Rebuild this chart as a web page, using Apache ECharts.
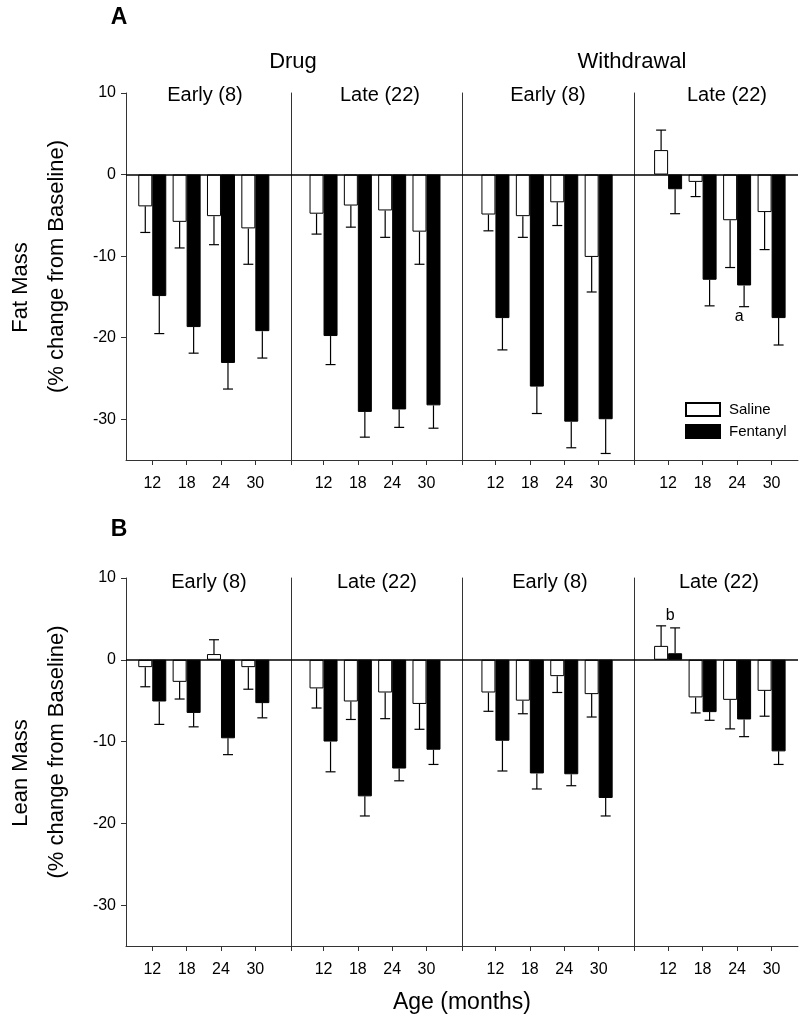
<!DOCTYPE html>
<html>
<head>
<meta charset="utf-8">
<script src="https://cdn.jsdelivr.net/npm/echarts@6/dist/echarts.min.js"></script>
<style>
html,body{margin:0;padding:0;background:#fff;}
#chart{width:800px;height:1021px;}
</style>
</head>
<body>
<div id="chart"></div>
<script>
// ---------------- data ----------------
const months = [12, 18, 24, 30];
const panelTitles = ['Early (8)', 'Late (22)', 'Early (8)', 'Late (22)'];
const groupTitles = ['Drug', 'Withdrawal'];
const yTicks = [10, 0, -10, -20, -30];
const rowTitles = ['Fat Mass', 'Lean Mass'];

// Fat mass (% change from baseline), per panel: Drug-Early, Drug-Late, Withdrawal-Early, Withdrawal-Late
const fatSaline     = [[-3.9, -5.8, -5.1, -6.6], [-4.8, -3.8, -4.4, -7.0], [-4.9, -5.1, -3.4, -10.1], [3.0, -0.9, -5.6, -4.6]];
const fatSalineErr  = [[3.2, 3.2, 3.5, 4.4], [2.5, 2.65, 3.3, 4.0], [2.0, 2.6, 2.85, 4.3], [2.45, 1.8, 5.8, 4.6]];
const fatFentanyl   = [[-14.9, -18.7, -23.1, -19.2], [-19.8, -29.1, -28.8, -28.3], [-17.6, -26.0, -30.3, -30.0], [-1.8, -12.9, -13.6, -17.6]];
const fatFentanylErr= [[4.6, 3.2, 3.2, 3.3], [3.5, 3.1, 2.2, 2.8], [3.9, 3.3, 3.2, 4.2], [3.0, 3.2, 2.6, 3.3]];

// Lean mass
const leanSaline     = [[-0.9, -2.7, 0.7, -0.9], [-3.5, -5.1, -4.0, -5.4], [-4.0, -5.0, -2.0, -4.2], [1.7, -4.6, -4.9, -3.8]];
const leanSalineErr  = [[2.4, 2.1, 1.75, 2.7], [2.4, 2.2, 3.2, 3.1], [2.3, 1.6, 2.0, 2.8], [2.45, 1.9, 3.55, 3.1]];
const leanFentanyl   = [[-5.1, -6.5, -9.6, -5.3], [-10.0, -16.7, -13.3, -11.0], [-9.9, -13.9, -14.0, -16.9], [0.8, -6.4, -7.3, -11.2]];
const leanFentanylErr= [[2.8, 1.7, 2.0, 1.8], [3.7, 2.4, 1.5, 1.8], [3.7, 1.9, 1.4, 2.2], [3.1, 1.0, 2.1, 1.6]];

// significance letters: row, panel, month index, anchored series
const annotations = [
  {row: 0, panel: 3, idx: 2, series: 'fentanyl', text: 'a'},
  {row: 1, panel: 3, idx: 0, series: 'saline', text: 'b'}
];

// ---------------- layout ----------------
const FONT = '"Liberation Sans", Arial, Helvetica, sans-serif';
const edges = [126, 291, 462, 634, 798];
const xRanges = [[7.41, 36.23], [6.31, 36.21], [6.17, 36.16], [6.07, 34.59]];
const rowTop = [93, 578];
const rowHeight = [367, 368];
const AX = '#333';

const rows = [
  {sal: fatSaline, salE: fatSalineErr, fen: fatFentanyl, fenE: fatFentanylErr},
  {sal: leanSaline, salE: leanSalineErr, fen: leanFentanyl, fenE: leanFentanylErr}
];

const grid = [], xAxis = [], yAxis = [], series = [];

function errRender(params, api) {
  const x = api.value(0), v = api.value(1), e = api.value(2), side = api.value(3);
  const sign = v >= 0 ? 1 : -1;
  const p0 = api.coord([x, v]);
  const p1 = api.coord([x, v + sign * e]);
  const cx = p0[0] + side * 7;
  const st = {stroke: '#000', lineWidth: 1.2};
  return {
    type: 'group',
    children: [
      {type: 'line', shape: {x1: cx, y1: p0[1], x2: cx, y2: p1[1]}, style: st},
      {type: 'line', shape: {x1: cx - 5, y1: p1[1], x2: cx + 5, y2: p1[1]}, style: st}
    ]
  };
}

for (let r = 0; r < 2; r++) {
  const d = rows[r];
  for (let p = 0; p < 4; p++) {
    const g = r * 4 + p;
    grid.push({left: edges[p], top: rowTop[r], width: edges[p + 1] - edges[p], height: rowHeight[r]});
    const [mn, mx] = xRanges[p];
    xAxis.push({
      gridIndex: g, type: 'value', min: mn, max: mx,
      axisLine: {show: true, onZero: false, lineStyle: {color: AX, width: 1}},
      axisTick: {show: true, length: 5, customValues: p > 0 ? [mn].concat(months) : months, lineStyle: {color: AX, width: 1}},
      axisLabel: {customValues: months, fontSize: 16, color: '#000', margin: 16, fontFamily: FONT},
      splitLine: {show: false}
    });
    yAxis.push({
      gridIndex: g, type: 'value', min: -35, max: 10,
      axisLine: {show: true, onZero: false, lineStyle: {color: AX, width: 1}},
      axisTick: {show: p === 0, length: 5, customValues: yTicks, lineStyle: {color: AX, width: 1}},
      axisLabel: {show: p === 0, customValues: yTicks, fontSize: 16, color: '#000', margin: 10, fontFamily: FONT},
      splitLine: {show: false}
    });
    series.push({
      name: 'Saline', type: 'bar', xAxisIndex: g, yAxisIndex: g,
      barWidth: 14, barGap: '0%',
      data: months.map((m, i) => [m, d.sal[p][i]]),
      itemStyle: {color: '#fff', borderColor: '#000', borderWidth: 1},
      emphasis: {disabled: true}, silent: true
    });
    series.push({
      name: 'Fentanyl', type: 'bar', xAxisIndex: g, yAxisIndex: g,
      barWidth: 14, barGap: '0%',
      data: months.map((m, i) => [m, d.fen[p][i]]),
      itemStyle: {color: '#000', borderColor: '#000', borderWidth: 1},
      emphasis: {disabled: true}, silent: true,
      markLine: {
        silent: true, symbol: ['none', 'none'], animation: false,
        label: {show: false},
        lineStyle: {color: '#000', width: 1.5, type: 'solid'},
        data: [{yAxis: 0}]
      }
    });
    series.push({
      type: 'custom', xAxisIndex: g, yAxisIndex: g, silent: true, z: 5,
      renderItem: errRender,
      data: months.map((m, i) => [m, d.sal[p][i], d.salE[p][i], -1])
        .concat(months.map((m, i) => [m, d.fen[p][i], d.fenE[p][i], 1]))
    });
    const anns = annotations.filter(a => a.row === r && a.panel === p);
    if (anns.length) {
      series.push({
        type: 'custom', xAxisIndex: g, yAxisIndex: g, silent: true, z: 6,
        data: anns.map(a => {
          const v = a.series === 'saline' ? d.sal[p][a.idx] : d.fen[p][a.idx];
          const e = a.series === 'saline' ? d.salE[p][a.idx] : d.fenE[p][a.idx];
          const end = v >= 0 ? v + e : v - e;
          return [months[a.idx], end, v >= 0 ? 1 : -1, a.text];
        }),
        renderItem: function (params, api) {
          const pt = api.coord([api.value(0), api.value(1)]);
          const dir = api.value(2);
          const t = anns[params.dataIndex].text;
          return {
            type: 'text', x: pt[0] + 2, y: pt[1] - dir * 10,
            style: {text: t, font: '16px ' + FONT, fill: '#000', textAlign: 'center', textVerticalAlign: 'middle'}
          };
        }
      });
    }
  }
}

// ---------------- text ----------------
const graphic = [];
function txt(text, x, y, size, opts) {
  opts = opts || {};
  graphic.push({
    type: 'text', x: x, y: y, rotation: opts.rot || 0, silent: true,
    style: {text: text, font: (opts.bold ? 'bold ' : '') + size + 'px ' + FONT, fill: '#000', textAlign: 'center', textVerticalAlign: 'middle'}
  });
}
txt('A', 119, 18, 23, {bold: true});
txt('B', 119, 530, 23, {bold: true});
txt(groupTitles[0], 293, 62, 22);
txt(groupTitles[1], 632, 62, 22);
const subX = [[205, 380, 548, 727], [209, 377, 550, 719]];
const subY = [95, 582];
for (let r = 0; r < 2; r++) for (let p = 0; p < 4; p++) txt(panelTitles[p], subX[r][p], subY[r], 20);
const ctr = [276.5, 762];
for (let r = 0; r < 2; r++) {
  txt(rowTitles[r], 21, ctr[r] + 11, 22, {rot: Math.PI / 2});
  txt('(% change from Baseline)', 57, ctr[r] - 10, 22, {rot: Math.PI / 2});
}
txt('Age (months)', 462, 1003, 23);

const chart = echarts.init(document.getElementById('chart'), null, {renderer: 'canvas'});
chart.setOption({
  animation: false,
  backgroundColor: '#fff',
  textStyle: {fontFamily: FONT},
  grid: grid, xAxis: xAxis, yAxis: yAxis, series: series,
  legend: {
    data: ['Saline', 'Fentanyl'], orient: 'vertical', left: 680, top: 397,
    itemWidth: 34, itemHeight: 13, itemGap: 7, icon: 'rect', selectedMode: false,
    textStyle: {fontSize: 15, color: '#000', fontFamily: FONT, padding: [0, 0, 0, 4]}
  },
  graphic: graphic
});
</script>
</body>
</html>
